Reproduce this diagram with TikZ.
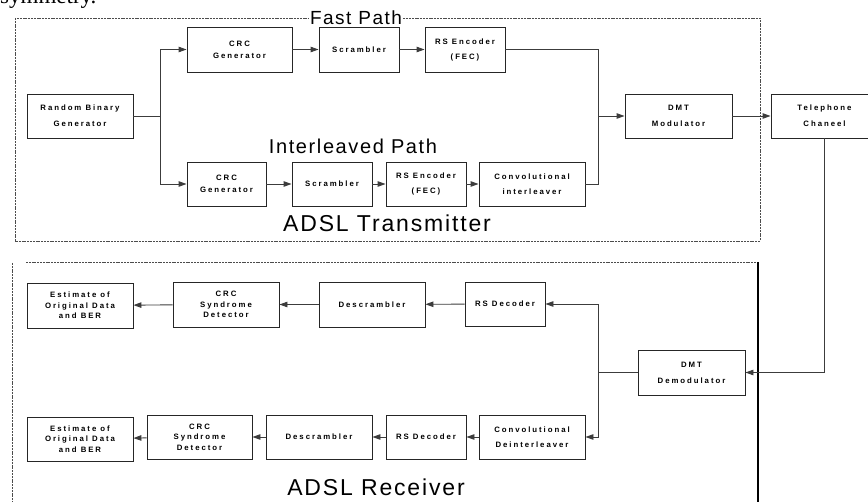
\documentclass[tikz,border=0pt]{standalone}
\usepackage{fontspec}
\newfontfamily\lblfont[LetterSpace=25]{Liberation Sans}
\newfontfamily\ttlfont[LetterSpace=8]{Liberation Sans}
\newfontfamily\serfont{Liberation Serif}
\usepackage{tikz}
\usetikzlibrary{arrows.meta, positioning}
\definecolor{lnclr}{RGB}{60,60,60}
\tikzset{
  blk/.style={draw=black!85, line width=0.9pt, inner sep=1pt, align=center,
              font=\lblfont\bfseries\fontsize{7.8}{#1}\selectfont},
  blk/.default=12,
  lnk/.style={lnclr, line width=0.9pt},
  frame/.style={black!70, line width=0.6pt, dash pattern=on 2pt off 0.8pt},
  ttl/.style={font=\ttlfont\fontsize{#1}{#1}\selectfont, inner sep=1pt}
}

\begin{document}
\begin{tikzpicture}[x=1pt, y=-1pt, >={Triangle[length=8pt,width=5.5pt]}]

\clip (0,0) rectangle (868,502);
\fill[white] (0,0) rectangle (868,502);

\node[font=\serfont\fontsize{23}{23}\selectfont, anchor=base west, inner sep=0] (symm) at (0,4) {symmetry.};

% === Transmitter frame ===
\draw[frame] (15,18) rectangle (760,241);
\node[ttl=19, fill=white] (fastlbl) at (356,18) {Fast Path};
\node[ttl=20] (intlbl) at (353,146) {Interleaved Path};
\node[ttl=23] (txlbl) at (387,223) {ADSL Transmitter};

% === Transmitter blocks ===
\node[blk=16, minimum width=106, minimum height=44] (rbg) at (80,116) {Random Binary\\Generator};

\node[blk, minimum width=105, minimum height=45] (crcA) at (239.5,49.5) {CRC\\Generator};
\node[blk, minimum width=80, minimum height=45] (scrA) at (359,49.5) {Scrambler};
\node[blk=15, minimum width=80, minimum height=45] (rsA) at (465,49.5) {RS Encoder\\(FEC)};

\node[blk, minimum width=79, minimum height=44] (crcB) at (226.5,184) {CRC\\Generator};
\node[blk, minimum width=80, minimum height=44] (scrB) at (332,184) {Scrambler};
\node[blk=15, minimum width=80, minimum height=44] (rsB) at (426,184) {RS Encoder\\(FEC)};
\node[blk=15, minimum width=106, minimum height=44] (convB) at (532,184) {Convolutional\\interleaver};

\node[blk=16, minimum width=107, minimum height=44] (dmtmod) at (678.5,116) {DMT\\Modulator};
\node[blk=16, minimum width=107, minimum height=44] (tel) at (824.5,116) {Telephone\\Chaneel};

% === Transmitter links ===
\coordinate (splitT) at (160,116);
\coordinate (mergeT) at (598,116);
\draw[lnk] (rbg) -- (splitT);
\draw[lnk, ->] (splitT) |- (crcA);
\draw[lnk, ->] (splitT) |- (crcB);
\draw[lnk, ->] (crcA) -- (scrA);
\draw[lnk, ->] (scrA) -- (rsA);
\draw[lnk, ->] (crcB) -- (scrB);
\draw[lnk, ->] (scrB) -- (rsB);
\draw[lnk, ->] (rsB) -- (convB);
\draw[lnk] (rsA) -| (mergeT);
\draw[lnk] (convB) -| (mergeT);
\draw[lnk, ->] (mergeT) -- (dmtmod);
\draw[lnk, ->] (dmtmod) -- (tel);

% === Receiver frame ===
\draw[frame] (26,262) -- (758,262);
\draw[frame] (12,263) -- (12,502);
\draw[black, line width=1.4pt] (758,262) -- (758,502);
\node[ttl=23] (rxlbl) at (376,487) {ADSL Receiver};

% === Receiver blocks ===
\node[blk=16, minimum width=107, minimum height=45] (demod) at (691.5,372.5) {DMT\\Demodulator};

\node[blk=10.5, minimum width=106, minimum height=45] (est1) at (80,305.5) {Estimate of\\Original Data\\and BER};
\node[blk=10.5, minimum width=106, minimum height=45] (crcR1) at (226,304.5) {CRC\\Syndrome\\Detector};
\node[blk, minimum width=106, minimum height=45] (desc1) at (372,304.5) {Descrambler};
\node[blk, minimum width=80, minimum height=44] (rsd1) at (505,304) {RS Decoder};

\node[blk=10.5, minimum width=106, minimum height=44] (est2) at (80,439) {Estimate of\\Original Data\\and BER};
\node[blk=10.5, minimum width=105, minimum height=44] (crcR2) at (199.5,437) {CRC\\Syndrome\\Detector};
\node[blk, minimum width=106, minimum height=44] (desc2) at (319,437) {Descrambler};
\node[blk, minimum width=80, minimum height=44] (rsd2) at (426,437) {RS Decoder};
\node[blk=15, minimum width=106, minimum height=44] (deint) at (532,437) {Convolutional\\Deinterleaver};

% === Receiver links ===
\coordinate (splitR) at (598,372.5);
\draw[lnk, ->] (tel.south) |- (demod);
\draw[lnk] (demod) -- (splitR);
\draw[lnk, ->] (splitR) |- (rsd1);
\draw[lnk, ->] (splitR) |- (deint);
\draw[lnk, ->] (rsd1) -- (desc1);
\draw[lnk, ->] (desc1) -- (crcR1);
\draw[lnk, ->] (crcR1) -- (est1);
\draw[lnk, ->] (deint) -- (rsd2);
\draw[lnk, ->] (rsd2) -- (desc2);
\draw[lnk, ->] (desc2) -- (crcR2);
\draw[lnk, ->] (crcR2) -- (est2);

\end{tikzpicture}
\end{document}
